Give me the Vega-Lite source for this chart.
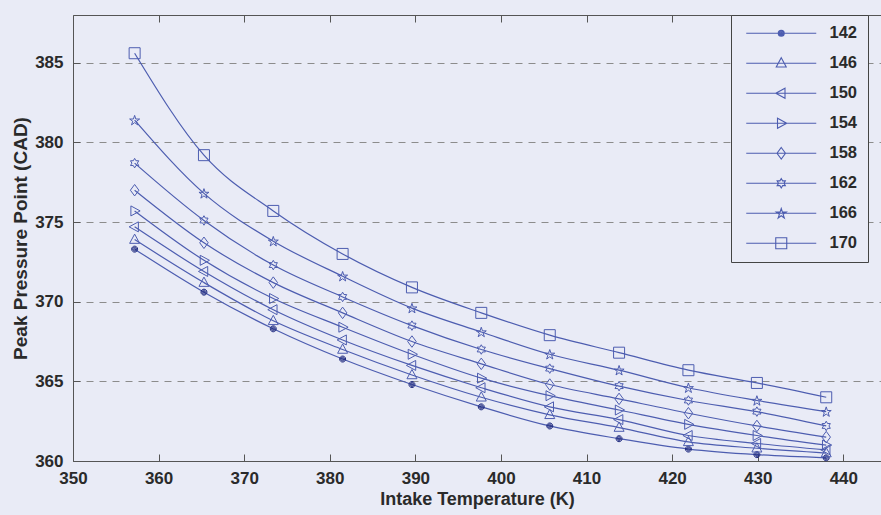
{
  "$schema": "https://vega.github.io/schema/vega-lite/v6.json",
  "width": 808,
  "height": 446,
  "autosize": {"type": "none"},
  "padding": {"left": 73, "top": 15, "right": 0, "bottom": 54},
  "background": "#e9ebf6",
  "config": {"view": {"stroke": null}, "font": "Liberation Sans"},
  "data": {"values": [
    {"series": "142", "T": 357.2, "P": 373.3}, {"series": "142", "T": 365.3, "P": 370.6}, {"series": "142", "T": 373.4, "P": 368.3}, {"series": "142", "T": 381.5, "P": 366.4}, {"series": "142", "T": 389.6, "P": 364.8}, {"series": "142", "T": 397.7, "P": 363.4}, {"series": "142", "T": 405.7, "P": 362.2}, {"series": "142", "T": 413.8, "P": 361.4}, {"series": "142", "T": 421.9, "P": 360.75}, {"series": "142", "T": 429.9, "P": 360.4}, {"series": "142", "T": 438.0, "P": 360.2},
    {"series": "146", "T": 357.2, "P": 373.9}, {"series": "146", "T": 365.3, "P": 371.2}, {"series": "146", "T": 373.4, "P": 368.8}, {"series": "146", "T": 381.5, "P": 367.0}, {"series": "146", "T": 389.6, "P": 365.4}, {"series": "146", "T": 397.7, "P": 364.0}, {"series": "146", "T": 405.7, "P": 362.9}, {"series": "146", "T": 413.8, "P": 362.1}, {"series": "146", "T": 421.9, "P": 361.2}, {"series": "146", "T": 429.9, "P": 360.8}, {"series": "146", "T": 438.0, "P": 360.5},
    {"series": "150", "T": 357.2, "P": 374.7}, {"series": "150", "T": 365.3, "P": 371.9}, {"series": "150", "T": 373.4, "P": 369.5}, {"series": "150", "T": 381.5, "P": 367.6}, {"series": "150", "T": 389.6, "P": 366.0}, {"series": "150", "T": 397.7, "P": 364.6}, {"series": "150", "T": 405.7, "P": 363.4}, {"series": "150", "T": 413.8, "P": 362.6}, {"series": "150", "T": 421.9, "P": 361.6}, {"series": "150", "T": 429.9, "P": 361.1}, {"series": "150", "T": 438.0, "P": 360.7},
    {"series": "154", "T": 357.2, "P": 375.7}, {"series": "154", "T": 365.3, "P": 372.6}, {"series": "154", "T": 373.4, "P": 370.2}, {"series": "154", "T": 381.5, "P": 368.4}, {"series": "154", "T": 389.6, "P": 366.7}, {"series": "154", "T": 397.7, "P": 365.2}, {"series": "154", "T": 405.7, "P": 364.1}, {"series": "154", "T": 413.8, "P": 363.2}, {"series": "154", "T": 421.9, "P": 362.3}, {"series": "154", "T": 429.9, "P": 361.6}, {"series": "154", "T": 438.0, "P": 361.0},
    {"series": "158", "T": 357.2, "P": 377.0}, {"series": "158", "T": 365.3, "P": 373.7}, {"series": "158", "T": 373.4, "P": 371.2}, {"series": "158", "T": 381.5, "P": 369.3}, {"series": "158", "T": 389.6, "P": 367.5}, {"series": "158", "T": 397.7, "P": 366.1}, {"series": "158", "T": 405.7, "P": 364.8}, {"series": "158", "T": 413.8, "P": 363.9}, {"series": "158", "T": 421.9, "P": 363.0}, {"series": "158", "T": 429.9, "P": 362.2}, {"series": "158", "T": 438.0, "P": 361.5},
    {"series": "162", "T": 357.2, "P": 378.7}, {"series": "162", "T": 365.3, "P": 375.1}, {"series": "162", "T": 373.4, "P": 372.3}, {"series": "162", "T": 381.5, "P": 370.3}, {"series": "162", "T": 389.6, "P": 368.5}, {"series": "162", "T": 397.7, "P": 367.0}, {"series": "162", "T": 405.7, "P": 365.8}, {"series": "162", "T": 413.8, "P": 364.7}, {"series": "162", "T": 421.9, "P": 363.8}, {"series": "162", "T": 429.9, "P": 363.1}, {"series": "162", "T": 438.0, "P": 362.2},
    {"series": "166", "T": 357.2, "P": 381.4}, {"series": "166", "T": 365.3, "P": 376.8}, {"series": "166", "T": 373.4, "P": 373.8}, {"series": "166", "T": 381.5, "P": 371.6}, {"series": "166", "T": 389.6, "P": 369.6}, {"series": "166", "T": 397.7, "P": 368.1}, {"series": "166", "T": 405.7, "P": 366.7}, {"series": "166", "T": 413.8, "P": 365.7}, {"series": "166", "T": 421.9, "P": 364.6}, {"series": "166", "T": 429.9, "P": 363.8}, {"series": "166", "T": 438.0, "P": 363.1},
    {"series": "170", "T": 357.2, "P": 385.6}, {"series": "170", "T": 365.3, "P": 379.2}, {"series": "170", "T": 373.4, "P": 375.7}, {"series": "170", "T": 381.5, "P": 373.0}, {"series": "170", "T": 389.6, "P": 370.9}, {"series": "170", "T": 397.7, "P": 369.3}, {"series": "170", "T": 405.7, "P": 367.9}, {"series": "170", "T": 413.8, "P": 366.8}, {"series": "170", "T": 421.9, "P": 365.7}, {"series": "170", "T": 429.9, "P": 364.9}, {"series": "170", "T": 438.0, "P": 364.0}
  ]},
  "encoding": {
    "y": {
      "field": "P", "type": "quantitative",
      "scale": {"domain": [360, 388], "nice": false, "zero": false},
      "axis": {
        "values": [360, 365, 370, 375, 380, 385], "format": "d",
        "labelFontSize": 17, "labelFontWeight": "bold", "labelColor": "#2a2a2a",
        "labelPadding": 17, "labelFlush": false, "labelOverlap": false,
        "tickSize": -7, "tickColor": "#555555", "domainColor": "#555555",
        "grid": true, "gridDash": [7, 6], "gridColor": "#8c8c8c", "gridWidth": 1,
        "title": "Peak Pressure Point (CAD)", "titleFontSize": 19, "titleFontWeight": "bold",
        "titleColor": "#2a2a2a", "titlePadding": 4
      }
    }
  },
  "layer": [
    {
      "mark": {"type": "line", "interpolate": "monotone", "color": "#4d5db0", "strokeWidth": 1.2},
      "encoding": {
        "x": {
          "field": "T", "type": "quantitative",
          "scale": {"domain": [350, 444.4], "nice": false, "zero": false},
          "axis": {
            "orient": "bottom",
            "values": [350, 360, 370, 380, 390, 400, 410, 420, 430, 440], "format": "d",
            "labelFontSize": 17, "labelFontWeight": "bold", "labelColor": "#2a2a2a",
            "labelPadding": 16, "labelFlush": false, "labelOverlap": false,
            "tickSize": -7, "tickColor": "#555555", "domainColor": "#555555", "grid": false,
            "title": "Intake Temperature (K)", "titleFontSize": 18, "titleFontWeight": "bold",
            "titleColor": "#2a2a2a", "titlePadding": 4
          }
        },
        "detail": {"field": "series", "type": "nominal"}
      }
    },
    {
      "mark": {"type": "point", "filled": false, "size": 100, "strokeWidth": 1, "opacity": 1},
      "encoding": {
        "x": {
          "field": "T", "type": "quantitative",
          "scale": {"domain": [350, 444.4], "nice": false, "zero": false},
          "axis": null
        },
        "shape": {
          "field": "series", "type": "nominal",
          "scale": {
            "domain": ["142", "146", "150", "154", "158", "162", "166", "170"],
            "range": [
              "M-0.6,0A0.6,0.6,0,1,0,0.6,0A0.6,0.6,0,1,0,-0.6,0M-0.4,0A0.4,0.4,0,1,0,0.4,0A0.4,0.4,0,1,0,-0.4,0M-0.2,0A0.2,0.2,0,1,0,0.2,0A0.2,0.2,0,1,0,-0.2,0",
              "M0,-1.1L1,0.75L-1,0.75Z",
              "M-1.1,0L0.75,-1L0.75,1Z",
              "M1.1,0L-0.75,-1L-0.75,1Z",
              "M0,-1.15L0.85,0L0,1.15L-0.85,0Z",
              "M0,-0.95L0.27,-0.48L0.82,-0.48L0.55,0L0.82,0.48L0.27,0.48L0,0.95L-0.27,0.48L-0.82,0.48L-0.55,0L-0.82,-0.48L-0.27,-0.48Z",
              "M0,-0.95L0.24,-0.22L1,-0.22L0.38,0.22L0.62,0.95L0,0.5L-0.62,0.95L-0.38,0.22L-1,-0.22L-0.24,-0.22Z",
              "M-1.1,-1.1H1.1V1.1H-1.1Z"
            ]
          },
          "legend": null
        },
        "stroke": {"condition": {"test": "datum.series === '142'", "value": "#1f2a80"}, "value": "#4d5db0"}
      }
    },
    {
      "mark": {"type": "point", "filled": false, "size": 100, "opacity": 0, "color": "#4d5db0"},
      "encoding": {
        "x": {
          "field": "T", "type": "quantitative",
          "scale": {"domain": [350, 444.4], "nice": false, "zero": false},
          "axis": {"orient": "top", "values": [350, 360, 370, 380, 390, 400, 410, 420, 430, 440], "labels": false, "tickSize": -7, "tickColor": "#555555", "domainColor": "#555555", "grid": false, "title": null}
        },
        "shape": {
          "field": "series", "type": "nominal",
          "scale": {
            "domain": ["142", "146", "150", "154", "158", "162", "166", "170"],
            "range": [
              "M-7,0H7M-0.6,0A0.6,0.6,0,1,0,0.6,0A0.6,0.6,0,1,0,-0.6,0M-0.4,0A0.4,0.4,0,1,0,0.4,0A0.4,0.4,0,1,0,-0.4,0M-0.2,0A0.2,0.2,0,1,0,0.2,0A0.2,0.2,0,1,0,-0.2,0",
              "M-7,0H7M0,-1.1L1,0.75L-1,0.75Z",
              "M-7,0H7M-1.1,0L0.75,-1L0.75,1Z",
              "M-7,0H7M1.1,0L-0.75,-1L-0.75,1Z",
              "M-7,0H7M0,-1.15L0.85,0L0,1.15L-0.85,0Z",
              "M-7,0H7M0,-0.95L0.27,-0.48L0.82,-0.48L0.55,0L0.82,0.48L0.27,0.48L0,0.95L-0.27,0.48L-0.82,0.48L-0.55,0L-0.82,-0.48L-0.27,-0.48Z",
              "M-7,0H7M0,-0.95L0.24,-0.22L1,-0.22L0.38,0.22L0.62,0.95L0,0.5L-0.62,0.95L-0.38,0.22L-1,-0.22L-0.24,-0.22Z",
              "M-7,0H7M-1.1,-1.1H1.1V1.1H-1.1Z"
            ]
          },
          "legend": {
            "title": null, "orient": "none", "legendX": 658, "legendY": 0,
            "padding": 10, "symbolSize": 100, "symbolOffset": 32, "labelOffset": 40,
            "symbolStrokeWidth": 1.1, "symbolStrokeColor": "#4d5db0", "symbolFillColor": "transparent",
            "symbolOpacity": 1, "labelFontSize": 16.5, "labelFontWeight": "bold", "labelColor": "#2a2a2a",
            "rowPadding": 13, "strokeColor": "#444444", "fillColor": "#e9ebf6",
            "labelExpr": "datum.label + '\u00a0\u00a0\u00a0\u00a0'",
            "encode": {"symbols": {"update": {"opacity": {"value": 1}}}}
          }
        }
      }
    }
  ],
  "resolve": {"scale": {"shape": "independent", "x": "independent"}}
}
